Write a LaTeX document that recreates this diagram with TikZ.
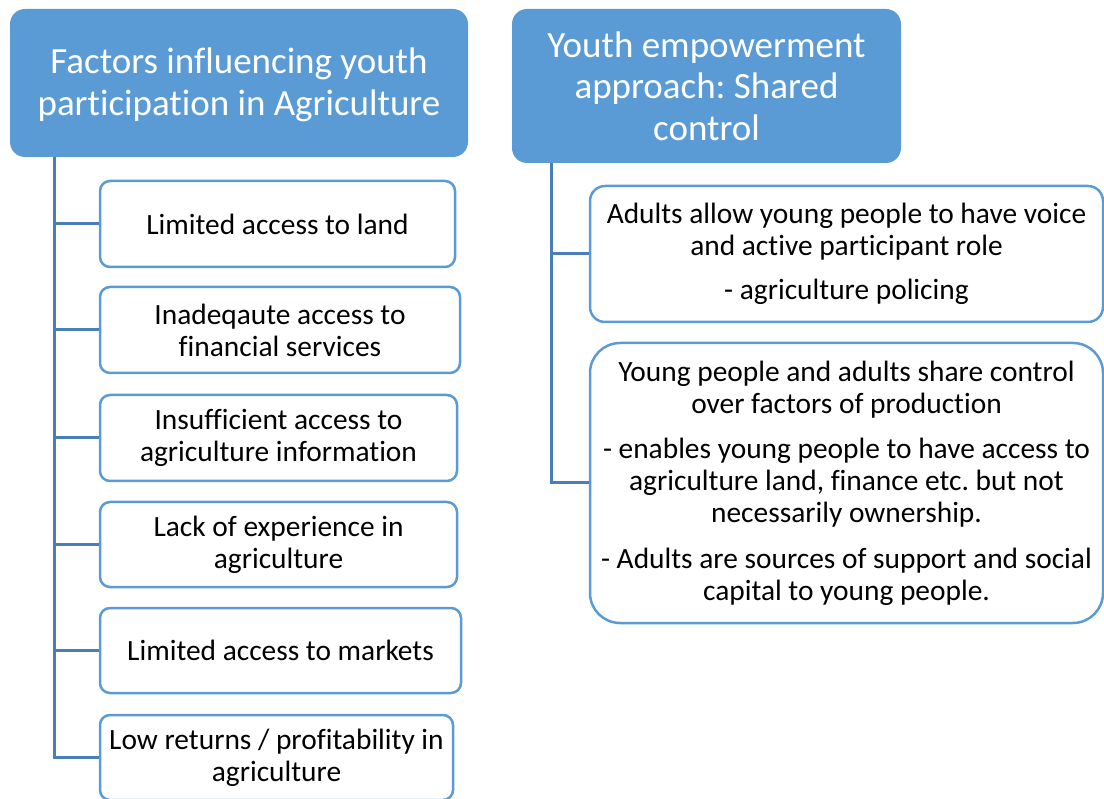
\documentclass[tikz,border=0pt]{standalone}
\usepackage{fontspec}
\setmainfont[Ligatures={NoCommon}]{Carlito}
\definecolor{hdrblue}{HTML}{5B9BD5}
\definecolor{boxblue}{HTML}{5B9BD5}
\definecolor{linkblue}{HTML}{4A7EBB}
\frenchspacing
\begin{document}
\begin{tikzpicture}[x=1pt,y=-1pt,
  header/.style={draw=none, fill=hdrblue, rounded corners=15pt, text=white,
    align=center, inner sep=0pt, font=\fontsize{37}{41.5}\selectfont},
  itembox/.style={draw=boxblue, line width=2.5pt, fill=white, rounded corners=10pt,
    align=center, inner sep=0pt, font=\fontsize{29.4}{32}\selectfont},
  link/.style={draw=linkblue, line width=3pt}
]
\useasboundingbox (0,0) rectangle (1104,799);
% headers
\node[header, minimum width=458pt, minimum height=148pt] (h1) at (239,83) {};
\node[align=center, inner sep=0pt, text=white, font=\fontsize{37}{41.5}\selectfont] (h1t) at (239,85)
  {Factors influencing youth\\participation in Agriculture};
\node[header, minimum width=389pt, minimum height=154pt] (h2) at (706.5,86)
  {Youth empowerment\\approach: Shared\\control};
% left boxes
\node[itembox, minimum width=355pt, minimum height=86pt] (b1) at (277.5,224) {Limited access to land};
\node[itembox, minimum width=360pt, minimum height=86pt] (b2) at (280,330) {Inadeqaute access to\\financial services};
\node[itembox, minimum width=357pt, minimum height=86pt] (b3) at (278.5,438) {Insufficient access to\\agriculture information};
\node[itembox, minimum width=357pt, minimum height=85pt] (b4) at (278.5,544.5) {Lack of experience in\\agriculture};
\node[itembox, minimum width=361pt, minimum height=85pt] (b5) at (280.5,650.5) {Limited access to markets};
\node[itembox, minimum width=353pt, minimum height=85pt] (b6) at (276.5,757.5) {Low returns / profitability in\\agriculture};
% right boxes
\node[itembox, rounded corners=15pt, minimum width=513pt, minimum height=136pt] (rA) at (846.5,254)
  {Adults allow young people to have voice\\and active participant role\\[12.5pt]- agriculture policing};
\node[itembox, rounded corners=30pt, minimum width=513pt, minimum height=280pt] (rB) at (846.5,483)
  {Young people and adults share control\\over factors of production\\[13.5pt]- enables young people to have access to\\agriculture land, finance etc. but not\\necessarily ownership.\\[13.5pt]- Adults are sources of support and social\\capital to young people.};
% connectors
\coordinate (L) at (54,157);
\coordinate (R) at (551,163);
\draw[link] (L) |- (b6.west);
\foreach \b in {b1,b2,b3,b4,b5} \draw[link] (L |- \b.west) -- (\b.west);
\draw[link] (R) |- (rB.west);
\draw[link] (R |- rA.west) -- (rA.west);
\end{tikzpicture}
\end{document}
